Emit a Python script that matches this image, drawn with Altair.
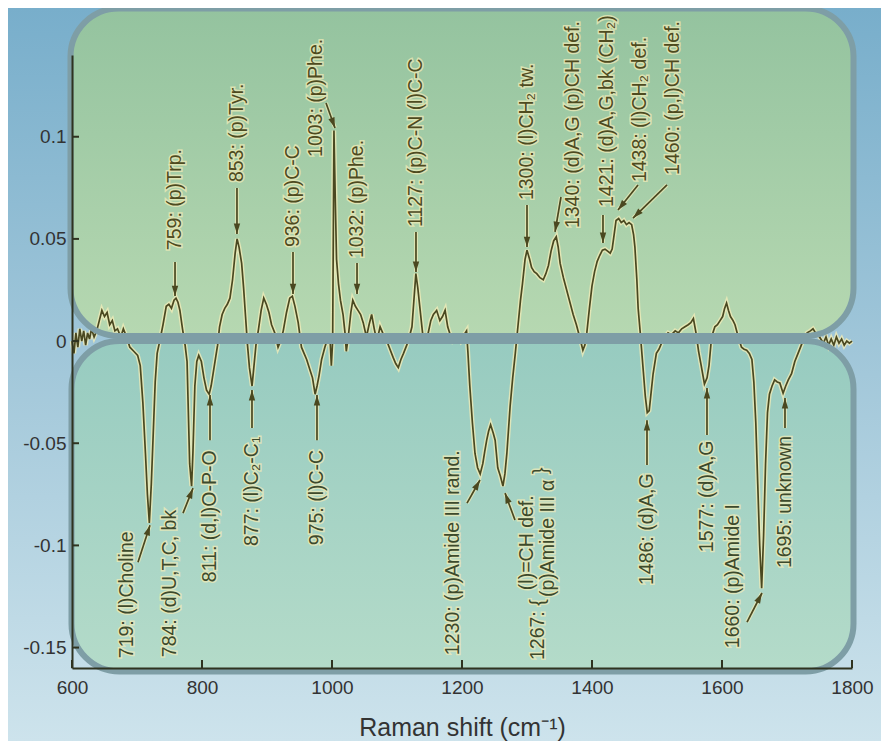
import altair as alt
import numpy as np
import pandas as pd

# ---------------- data ----------------
shift = [600, 603, 606, 609, 612, 615, 618, 621, 624, 627, 630, 634, 638, 642, 646, 650, 654, 658, 662, 666,
         670, 675, 679, 684, 689, 695, 701, 705, 709, 713, 716, 719, 722, 725, 728, 731, 735, 740, 745, 749,
         753, 757, 760, 763, 766, 770, 774, 777, 779, 781, 784, 786, 789, 792, 795, 799, 803, 807, 811, 814,
         817, 821, 824, 827, 831, 835, 839, 843, 847, 851, 854, 857, 861, 864, 867, 870, 873, 877, 880, 883,
         887, 891, 895, 899, 903, 907, 912, 917, 921, 925, 930, 935, 939, 943, 948, 953, 957, 961, 966, 970,
         974, 977, 980, 984, 989, 994, 997, 999, 1001, 1003, 1005, 1007, 1010, 1013, 1017, 1020, 1022, 1025, 1029, 1032,
         1036, 1040, 1044, 1048, 1053, 1057, 1061, 1065, 1069, 1074, 1078, 1082, 1088, 1094, 1098, 1102, 1106, 1110, 1115, 1119,
         1123, 1126, 1129, 1132, 1135, 1140, 1144, 1148, 1152, 1156, 1161, 1166, 1170, 1174, 1178, 1182, 1186, 1190, 1194, 1198,
         1203, 1207, 1209, 1212, 1216, 1220, 1224, 1228, 1232, 1235, 1238, 1241, 1244, 1248, 1251, 1255, 1259, 1263, 1266, 1269,
         1274, 1278, 1282, 1286, 1290, 1293, 1297, 1300, 1304, 1307, 1311, 1315, 1320, 1325, 1329, 1333, 1337, 1341, 1345, 1348,
         1351, 1356, 1361, 1366, 1371, 1376, 1381, 1386, 1389, 1392, 1396, 1400, 1404, 1408, 1412, 1416, 1420, 1424, 1428, 1431,
         1434, 1437, 1441, 1445, 1449, 1453, 1457, 1461, 1464, 1466, 1469, 1471, 1474, 1476, 1479, 1482, 1485, 1488, 1491, 1494,
         1499, 1503, 1507, 1512, 1517, 1522, 1528, 1533, 1538, 1543, 1548, 1552, 1556, 1560, 1564, 1568, 1573, 1577, 1580, 1584,
         1589, 1593, 1597, 1601, 1604, 1607, 1610, 1613, 1617, 1620, 1625, 1630, 1634, 1638, 1642, 1646, 1649, 1652, 1655, 1658,
         1661, 1664, 1667, 1670, 1673, 1677, 1681, 1685, 1689, 1694, 1698, 1702, 1707, 1712, 1717, 1722, 1726, 1731, 1736, 1740,
         1744, 1748, 1752, 1756, 1760, 1764, 1768, 1772, 1776, 1780, 1784, 1788, 1792, 1796, 1800]

intensity = [0.0, -0.006, 0.004, -0.003, 0.006, 0.0, 0.005, -0.002, 0.004, 0.001, 0.006, 0.002, 0.005, 0.010, 0.015, 0.012, 0.014, 0.008, 0.010, 0.005,
             0.006, 0.002, 0.006, 0.002, -0.003, -0.005, -0.007, -0.012, -0.030, -0.055, -0.075, -0.089, -0.070, -0.045, -0.020, -0.006, 0.0, 0.008, 0.017, 0.018,
             0.016, 0.020, 0.021, 0.019, 0.015, 0.006, -0.002, -0.010, -0.035, -0.060, -0.071, -0.055, -0.022, -0.010, -0.007, -0.010, -0.018, -0.024, -0.026, -0.022,
             -0.016, -0.008, -0.002, 0.007, 0.013, 0.016, 0.018, 0.021, 0.030, 0.043, 0.050, 0.046, 0.038, 0.026, 0.012, -0.002, -0.013, -0.022, -0.012, -0.002,
             0.006, 0.015, 0.021, 0.018, 0.014, 0.008, 0.004, -0.003, 0.0, 0.005, 0.014, 0.021, 0.022, 0.017, 0.009, -0.003, -0.006, -0.009, -0.014, -0.018,
             -0.026, -0.022, -0.017, -0.009, -0.003, 0.002, 0.001, -0.012, 0.0, 0.103, 0.070, 0.040, 0.028, 0.020, 0.013, 0.004, -0.005, 0.002, 0.014, 0.020,
             0.017, 0.015, 0.013, 0.009, 0.002, 0.008, 0.013, 0.006, 0.0, 0.007, 0.004, 0.002, -0.003, -0.008, -0.011, -0.013, -0.009, -0.006, -0.002, 0.002,
             0.007, 0.020, 0.033, 0.026, 0.017, 0.002, 0.001, 0.004, 0.010, 0.013, 0.015, 0.010, 0.012, 0.015, 0.007, 0.003, 0.0, 0.001, 0.002, 0.0,
             0.003, 0.005, -0.005, -0.022, -0.040, -0.055, -0.062, -0.065, -0.060, -0.054, -0.0485, -0.044, -0.041, -0.045, -0.0485, -0.062, -0.066, -0.071, -0.065, -0.055,
             -0.032, -0.018, -0.006, 0.007, 0.020, 0.028, 0.040, 0.0445, 0.040, 0.036, 0.034, 0.033, 0.031, 0.030, 0.033, 0.037, 0.044, 0.049, 0.051, 0.046,
             0.038, 0.031, 0.025, 0.019, 0.013, 0.008, 0.002, -0.0045, -0.002, 0.004, 0.016, 0.027, 0.034, 0.039, 0.042, 0.0445, 0.045, 0.044, 0.043, 0.045,
             0.052, 0.059, 0.060, 0.058, 0.059, 0.057, 0.058, 0.057, 0.052, 0.046, 0.030, 0.016, 0.005, -0.003, -0.015, -0.027, -0.035, -0.034, -0.025, -0.016,
             -0.006, -0.004, -0.001, 0.002, 0.004, 0.003, 0.005, 0.004, 0.006, 0.007, 0.008, 0.009, 0.011, 0.004, -0.005, -0.012, -0.021, -0.018, -0.012, 0.002,
             0.007, 0.008, 0.010, 0.012, 0.016, 0.0186, 0.015, 0.012, 0.010, 0.008, 0.002, -0.003, -0.004, -0.0045, -0.006, -0.009, -0.020, -0.040, -0.070, -0.100,
             -0.121, -0.095, -0.060, -0.035, -0.026, -0.022, -0.019, -0.020, -0.0205, -0.0255, -0.022, -0.019, -0.016, -0.010, -0.006, -0.002, 0.001, 0.004, 0.005, 0.006,
             0.004, 0.003, 0.001, -0.001, 0.002, -0.002, 0.001, -0.002, 0.002, -0.001, 0.001, -0.002, 0.0, -0.001, 0.0]

# annotation labels (rotated text): text, start x (cm-1), start y
top_labels = ["759: (p)Trp.", "853: (p)Tyr.", "936: (p)C-C", "1003: (p)Phe.", "1032: (p)Phe.",
              "1127: (p)C-N (l)C-C", "1300: (l)CH\u2082 tw.", "1340: (d)A,G (p)CH def.",
              "1421: (d)A,G,bk (CH\u2082)", "1438: (l)CH\u2082 def.", "1460: (p,l)CH def."]
top_tx = [758.5, 853.8, 940.0, 975.4, 1038.5, 1129.2, 1300.0, 1370.8, 1423.1, 1473.8, 1524.6]
top_ty = [0.0445, 0.0778, 0.0460, 0.0901, 0.0406, 0.0558, 0.0690, 0.0553, 0.0656, 0.0778, 0.0813]

bot_labels = ["719: (l)Choline", "784: (d)U,T,C, bk", "811: (d,l)O-P-O", "877: (l)C\u2082-C\u2081",
              "975: (l)C-C", "1230: (p)Amide III rand.", "1267: {", "(l)=CH def.", "(p)Amide III \u03b1", "}",
              "1486: (d)A,G", "1577: (d)A,G", "1660: (p)Amide I", "1695: unknown"]
bot_tx = [684.6, 750.8, 812.3, 876.9, 976.9, 1186.2, 1316.9, 1300.5, 1332.3, 1321.5, 1484.6, 1576.9, 1616.9, 1696.9]
bot_ty = [-0.1552, -0.1547, -0.1180, -0.1003, -0.0999, -0.1537, -0.1561, -0.1219, -0.1253, -0.0651,
          -0.1194, -0.1033, -0.1503, -0.1111]

# arrows: tail (x1, y1) -> head (x2, y2)
arr_x1 = [758.5, 853.8, 940.0, 990.8, 1038.5, 1129.2, 1300.0, 1352.3, 1416.9, 1470.8, 1515.4,
          701.5, 770.8, 812.3, 876.9, 976.9, 1207.7, 1281.5, 1484.6, 1576.9, 1638.5, 1696.9]
arr_y1 = [0.0387, 0.0749, 0.0436, 0.1165, 0.0382, 0.0534, 0.0666, 0.0705, 0.0617, 0.0764, 0.0764,
          -0.1082, -0.0842, -0.0485, -0.0426, -0.0485, -0.0793, -0.0876, -0.0607, -0.0460, -0.1375, -0.0426]
arr_x2 = [758.5, 853.8, 940.0, 1004.6, 1038.5, 1129.2, 1300.0, 1343.1, 1416.9, 1440.0, 1463.1,
          720.0, 786.2, 812.3, 876.9, 976.9, 1227.7, 1266.2, 1484.6, 1576.9, 1661.5, 1696.9]
arr_y2 = [0.0220, 0.0524, 0.0230, 0.1043, 0.0230, 0.0338, 0.0460, 0.0534, 0.0480, 0.0641, 0.0602,
          -0.0901, -0.0720, -0.0264, -0.0240, -0.0264, -0.0680, -0.0744, -0.0387, -0.0230, -0.1233, -0.0279]

x_ticks = [600, 800, 1000, 1200, 1400, 1600, 1800]
y_ticks = [-0.15, -0.1, -0.05, 0, 0.05, 0.1]

# ---------------- layout / style ----------------
W, H = 780, 613
X0, X1 = 600, 1800
Y0, Y1 = -0.16, 0.14
PAD = {"left": 64, "top": 47, "right": 29, "bottom": 73}
FONT = "Liberation Sans"
LINE = "#4a4820"
GLOW = "#efebb8"
TOPTXT = "#4e4b1f"
BOTTXT = "#3d4a2c"
PANEL_STROKE = "#7e9ea6"
AXC = "#2f3320"

xs = alt.Scale(domain=[X0, X1], nice=False, zero=False)
ys = alt.Scale(domain=[Y0, Y1], nice=False, zero=False)

x_axis = alt.Axis(values=x_ticks, title="Raman shift (cm\u207b\u00b9)", ticks=False, grid=False,
                  labelFont=FONT, labelFontSize=19, labelColor="#333333", labelPadding=10,
                  labelExpr="'' + datum.value",
                  titleFont=FONT, titleFontSize=25, titleFontWeight="normal", titleColor="#333333",
                  titleBaseline="alphabetic", titleY=67, titleX=W / 2,
                  domainColor=AXC, domainWidth=2, zindex=1, labelFlush=False)
y_axis = alt.Axis(values=y_ticks, title=None, ticks=False, grid=False,
                  labelFont=FONT, labelFontSize=19, labelColor="#333333", labelPadding=6,
                  labelExpr="'' + datum.value",
                  domainColor=AXC, domainWidth=2, zindex=1)


def X(f):
    return alt.X(f, scale=xs, axis=x_axis)


def Y(f):
    return alt.Y(f, scale=ys, axis=y_axis)


def vgrad(c0, c1, cm=None):
    stops = [alt.GradientStop(color=c0, offset=0)]
    if cm:
        stops.append(alt.GradientStop(color=cm, offset=0.5))
    stops.append(alt.GradientStop(color=c1, offset=1))
    return alt.LinearGradient(gradient="linear", stops=stops, x1=0, x2=0, y1=0, y2=1)


one = pd.DataFrame({"k": [0]})
spec = pd.DataFrame({"shift": shift, "intensity": intensity})

kx = W / (X1 - X0)
ky = H / (Y1 - Y0)
arrows = pd.DataFrame({"x1": arr_x1, "y1": arr_y1, "x2": arr_x2, "y2": arr_y2})
arrows["ang"] = (np.degrees(np.arctan2((arrows.x2 - arrows.x1) * kx, (arrows.y2 - arrows.y1) * ky))) % 360

tl = pd.DataFrame({"t": top_labels, "x": top_tx, "y": top_ty})
bl = pd.DataFrame({"t": bot_labels, "x": bot_tx, "y": bot_ty})

# background gradient and rounded panels
bg = alt.Chart(one).mark_rect(fill=vgrad("#78aecb", "#cde3ec", "#a3c8da")).encode(
    x=alt.value(-PAD["left"]), x2=alt.value(W + PAD["right"]),
    y=alt.value(-PAD["top"]), y2=alt.value(H + PAD["bottom"]))

TOP_BOX = dict(x=alt.value(-1.5), x2=alt.value(781.5), y=alt.value(-46.5), y2=alt.value(281))
LOW_BOX = dict(x=alt.value(-0.5), x2=alt.value(781.5), y=alt.value(286), y2=alt.value(616.5))

top_panel = alt.Chart(one).mark_rect(fill=vgrad("#94c39f", "#b6d8b1"), cornerRadius=48).encode(**TOP_BOX)
low_panel = alt.Chart(one).mark_rect(fill=vgrad("#97cbc0", "#b4dbc9"), cornerRadius=48).encode(**LOW_BOX)
top_edge = alt.Chart(one).mark_rect(fillOpacity=0, stroke=PANEL_STROKE, strokeWidth=6,
                                    cornerRadius=48).encode(**TOP_BOX)
low_edge = alt.Chart(one).mark_rect(fillOpacity=0, stroke=PANEL_STROKE, strokeWidth=6,
                                    cornerRadius=48).encode(**LOW_BOX)

glow_line = alt.Chart(spec).mark_line(color=GLOW, strokeWidth=4.5, opacity=0.8).encode(
    x=X("shift:Q"), y=Y("intensity:Q"))
line = alt.Chart(spec).mark_line(color=LINE, strokeWidth=1.7).encode(
    x=X("shift:Q"), y=Y("intensity:Q"))

xt = alt.Chart(pd.DataFrame({"v": x_ticks})).mark_rule(color=AXC, strokeWidth=2).encode(
    x=X("v:Q"), y=alt.value(H), y2=alt.value(H - 8))
yt = alt.Chart(pd.DataFrame({"v": y_ticks})).mark_rule(color=AXC, strokeWidth=2).encode(
    y=Y("v:Q"), x=alt.value(0), x2=alt.value(7))

arr_enc = dict(x=X("x1:Q"), y=Y("y1:Q"), x2="x2:Q", y2="y2:Q")
arrow_glow = alt.Chart(arrows).mark_rule(color=GLOW, strokeWidth=4, opacity=0.7).encode(**arr_enc)
arrow_line = alt.Chart(arrows).mark_rule(color=LINE, strokeWidth=1.7).encode(**arr_enc)
heads = alt.Chart(arrows).mark_point(shape="M0,0L-0.8,2.6L0.8,2.6Z", size=64, filled=True,
                                     color=LINE, opacity=1).encode(
    x=X("x2:Q"), y=Y("y2:Q"), angle=alt.Angle("ang:Q", scale=None))


def labels(df, col):
    enc = dict(x=X("x:Q"), y=Y("y:Q"), text="t:N")
    base = dict(angle=270, align="left", baseline="middle", font=FONT, fontSize=19.5)
    g = alt.Chart(df).mark_text(fill=GLOW, stroke=GLOW, strokeWidth=3, opacity=0.75, **base).encode(**enc)
    t = alt.Chart(df).mark_text(fill=col, **base).encode(**enc)
    return [g, t]


chart = alt.layer(
    bg, top_panel, low_panel, glow_line, line, top_edge, low_edge, xt, yt,
    arrow_glow, arrow_line, heads, *labels(tl, TOPTXT), *labels(bl, BOTTXT)
).properties(
    width=W, height=H,
    autosize=alt.AutoSizeParams(type="none"),
    padding=PAD,
).configure_view(stroke=None).configure(background="#cde3ec")

chart.save("out.html", embed_options={"renderer": "svg", "actions": False})
